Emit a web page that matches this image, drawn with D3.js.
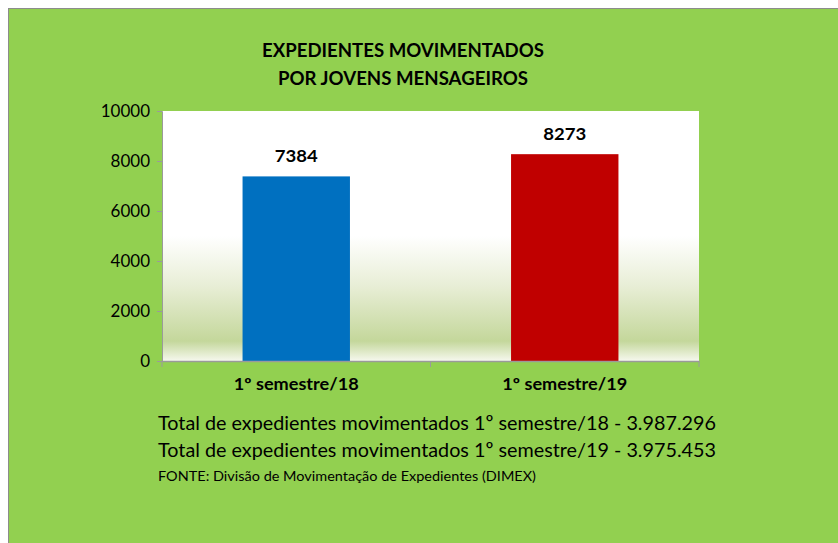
<!DOCTYPE html>
<html>
<head>
<meta charset="utf-8">
<script src="https://cdn.jsdelivr.net/npm/d3@7"></script>
<style>
  body { margin: 0; background: #fff; }
  svg { display: block; font-family: Lato, "Open Sans", sans-serif; }
</style>
</head>
<body>
<div id="chart"></div>
<script>
const categories = ['1º semestre/18', '1º semestre/19']
const values = [7384, 8273]
const barColors = ['#0070C0', '#C00000']
const yTicks = [0, 2000, 4000, 6000, 8000, 10000]
const titleLines = ['EXPEDIENTES MOVIMENTADOS', 'POR JOVENS MENSAGEIROS']
const footerLines = [
  'Total de expedientes movimentados 1º semestre/18 - 3.987.296',
  'Total de expedientes movimentados 1º semestre/19 - 3.975.453'
]
const sourceLine = 'FONTE:  Divisão de Movimentação de Expedientes (DIMEX)'

const width = 838
const height = 543
const plot = {left: 162, right: 699, top: 111, bottom: 361}

const svg = d3.select('#chart')
  .append('svg')
  .attr('width', width)
  .attr('height', height)

// green panel
svg.append('rect')
  .attr('x', 8.5).attr('y', 8.5)
  .attr('width', width).attr('height', height)
  .attr('fill', '#92D050')
  .attr('stroke', '#8c8c8c')

// plot background gradient
const grad = svg.append('defs').append('linearGradient')
  .attr('id', 'plotbg')
  .attr('x1', 0).attr('y1', 0).attr('x2', 0).attr('y2', 1)
grad.append('stop').attr('offset', 0).attr('stop-color', '#ffffff')
grad.append('stop').attr('offset', 0.5).attr('stop-color', '#ffffff')
grad.append('stop').attr('offset', 0.7).attr('stop-color', '#e8eed6')
grad.append('stop').attr('offset', 0.92).attr('stop-color', '#c4d79b')
grad.append('stop').attr('offset', 1).attr('stop-color', '#f6f8ee')

svg.append('rect')
  .attr('x', plot.left).attr('y', plot.top)
  .attr('width', plot.right - plot.left)
  .attr('height', plot.bottom - plot.top)
  .attr('fill', 'url(#plotbg)')

const x = d3.scaleBand()
  .domain(categories)
  .range([plot.left, plot.right])

const y = d3.scaleLinear()
  .domain([0, 10000])
  .range([plot.bottom, plot.top])

const barW = x.bandwidth() * 0.4

svg.selectAll('rect.bar')
  .data(values)
  .enter()
  .append('rect')
  .attr('class', 'bar')
  .attr('x', (d, i) => x(categories[i]) + x.bandwidth() / 2 - barW / 2)
  .attr('y', d => y(d))
  .attr('width', barW)
  .attr('height', d => y(0) - y(d))
  .attr('fill', (d, i) => barColors[i])

svg.selectAll('text.val')
  .data(values)
  .enter()
  .append('text')
  .attr('class', 'val')
  .attr('x', (d, i) => x(categories[i]) + x.bandwidth() / 2)
  .attr('y', d => y(d) - 14)
  .attr('text-anchor', 'middle')
  .attr('font-size', 17)
  .attr('font-weight', 'bold')
  .attr('textLength', 43)
  .attr('lengthAdjust', 'spacingAndGlyphs')
  .text(d => d)

// axes
const yAxis = svg.append('g')
  .attr('transform', `translate(${plot.left},0)`)
  .call(d3.axisLeft(y).tickValues(yTicks).tickSize(5).tickPadding(7).tickFormat(d3.format('d')))
yAxis.selectAll('path, line').attr('stroke', '#9a9a9a')
yAxis.selectAll('text').attr('font-size', 17).attr('fill', '#000')
  .attr('font-family', 'Lato, sans-serif')

const xAxis = svg.append('g')
  .attr('transform', `translate(0,${plot.bottom})`)
  .call(d3.axisBottom(x).tickSize(0).tickPadding(17))
xAxis.select('.domain').attr('stroke', '#9a9a9a').attr('stroke-width', 1.5)
xAxis.selectAll('text').attr('font-size', 17).attr('font-weight', 'bold').attr('fill', '#000')
  .attr('font-family', 'Lato, sans-serif')
  .attr('textLength', 125)
  .attr('lengthAdjust', 'spacingAndGlyphs')

// x tick marks at band boundaries
svg.selectAll('line.xtick')
  .data([plot.left, plot.left + x.step(), plot.right])
  .enter()
  .append('line')
  .attr('class', 'xtick')
  .attr('x1', d => d).attr('x2', d => d)
  .attr('y1', plot.bottom).attr('y2', plot.bottom + 6)
  .attr('stroke', '#9a9a9a')

// title
svg.selectAll('text.title')
  .data(titleLines)
  .enter()
  .append('text')
  .attr('class', 'title')
  .attr('x', 403)
  .attr('y', (d, i) => 57 + i * 28)
  .attr('text-anchor', 'middle')
  .attr('font-size', 19)
  .attr('font-weight', 'bold')
  .attr('textLength', (d, i) => i === 0 ? 282 : 250)
  .attr('lengthAdjust', 'spacingAndGlyphs')
  .text(d => d)

// footer
svg.selectAll('text.footer')
  .data(footerLines)
  .enter()
  .append('text')
  .attr('class', 'footer')
  .attr('x', 158)
  .attr('y', (d, i) => 430 + i * 27)
  .attr('font-size', 20)
  .attr('textLength', 558)
  .attr('lengthAdjust', 'spacingAndGlyphs')
  .text(d => d)

svg.append('text')
  .attr('x', 158)
  .attr('y', 481)
  .attr('font-size', 13)
  .attr('textLength', 378)
  .attr('lengthAdjust', 'spacingAndGlyphs')
  .text(sourceLine)
</script>
</body>
</html>
